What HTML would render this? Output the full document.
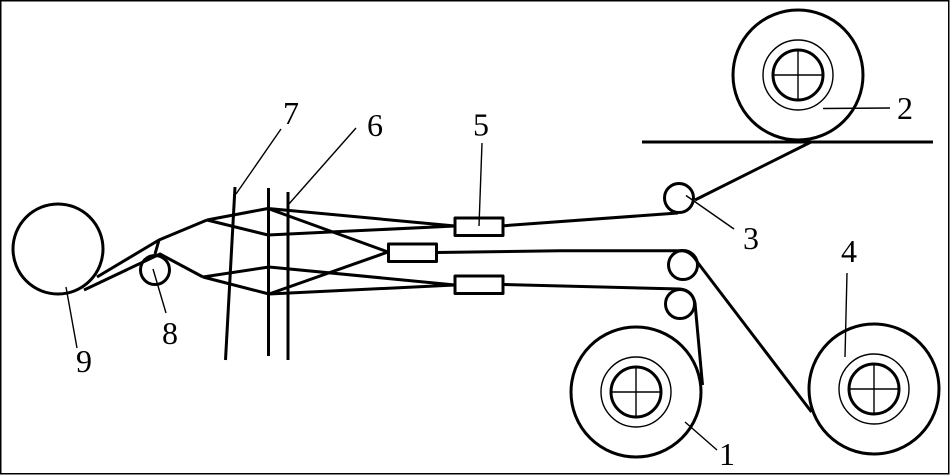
<!DOCTYPE html>
<html>
<head>
<meta charset="utf-8">
<style>
html,body{margin:0;padding:0;background:#fff;}
svg{display:block;}
text{font-family:"Liberation Serif",serif;font-size:32px;fill:#000;text-anchor:middle;}
</style>
</head>
<body>
<svg width="950" height="475" viewBox="0 0 950 475" xmlns="http://www.w3.org/2000/svg">
<rect x="0.75" y="0.75" width="948" height="473" fill="#fff" stroke="#000" stroke-width="1.5"/>
<g fill="none" stroke="#000" stroke-width="3" stroke-linecap="butt" stroke-linejoin="round">
  <!-- Rolls -->
  <circle cx="798" cy="75" r="65"/>
  <circle cx="798" cy="75" r="25"/>
  <circle cx="636" cy="392" r="65"/>
  <circle cx="636" cy="392" r="25"/>
  <circle cx="874" cy="389" r="65"/>
  <circle cx="874" cy="389" r="25"/>
  <circle cx="58" cy="249" r="45"/>
  <circle cx="155" cy="270" r="14.5"/>
  <circle cx="679" cy="198" r="14.5"/>
  <circle cx="683" cy="265" r="14.5"/>
  <circle cx="680" cy="304" r="14.5"/>
  <!-- Table -->
  <line x1="642" y1="142" x2="933" y2="142"/>
  <!-- Right side paths -->
  <path d="M811 142 L695 200"/>
  <path d="M504 225.700 L678 213"/>
  <path d="M437 252.500 L560 250.700 L682 250.700 Q691 251 698 263 L811.500 412"/>
  <path d="M504 284.500 L680 289 Q692 290 695 303 L702.500 385"/>
  <!-- Boxes -->
  <rect x="455" y="218" width="48" height="17.500"/>
  <rect x="388.500" y="244" width="48" height="17.500"/>
  <rect x="455" y="276" width="48" height="17.500"/>
  <!-- Lines to boxes -->
  <path d="M268 208.500 L455 226"/>
  <path d="M268 235 L455 226"/>
  <path d="M268 208.500 L388 252"/>
  <path d="M269 294 L388 252"/>
  <path d="M269 267 L455 285"/>
  <path d="M269 294 L455 285"/>
  <!-- Fan left -->
  <path d="M207 220 L268 208.500"/>
  <path d="M207 220 L268 235"/>
  <path d="M203 277 L269 267"/>
  <path d="M203 277 L269 294"/>
  <path d="M207 220 L159 240 L97 277"/>
  <path d="M203 277 L160 254 L84 290"/>
  <path d="M159 240 L155 254"/>
  <!-- Comb lines -->
  <line x1="235" y1="187" x2="225.500" y2="360"/>
  <line x1="268.500" y1="188" x2="268.500" y2="356"/>
  <line x1="288" y1="192" x2="288" y2="360"/>
</g>
<g fill="none" stroke="#000" stroke-width="1.4">
  <circle cx="798" cy="75" r="35"/>
  <line x1="798" y1="50" x2="798" y2="100"/>
  <line x1="773" y1="75" x2="823" y2="75"/>
  <circle cx="636" cy="392" r="35"/>
  <line x1="636" y1="367" x2="636" y2="417"/>
  <line x1="611" y1="392" x2="661" y2="392"/>
  <circle cx="874" cy="389" r="35"/>
  <line x1="874" y1="364" x2="874" y2="414"/>
  <line x1="849" y1="389" x2="899" y2="389"/>
  <!-- Leaders -->
  <line x1="823" y1="108.500" x2="890" y2="108"/>
  <line x1="686" y1="195.500" x2="734" y2="229"/>
  <line x1="847" y1="273" x2="845" y2="357"/>
  <line x1="685" y1="422" x2="717" y2="450"/>
  <line x1="482" y1="143" x2="479" y2="226"/>
  <line x1="281" y1="129" x2="236" y2="194"/>
  <line x1="356" y1="128" x2="288" y2="205"/>
  <line x1="153" y1="269" x2="166" y2="313"/>
  <line x1="66" y1="287" x2="77" y2="348"/>
</g>
<text x="905" y="119">2</text>
<text x="751" y="249">3</text>
<text x="849" y="262">4</text>
<text x="481" y="135.500">5</text>
<text x="375" y="136">6</text>
<text x="291" y="124">7</text>
<text x="170" y="344">8</text>
<text x="84" y="372">9</text>
<text x="727" y="465">1</text>
</svg>
</body>
</html>
